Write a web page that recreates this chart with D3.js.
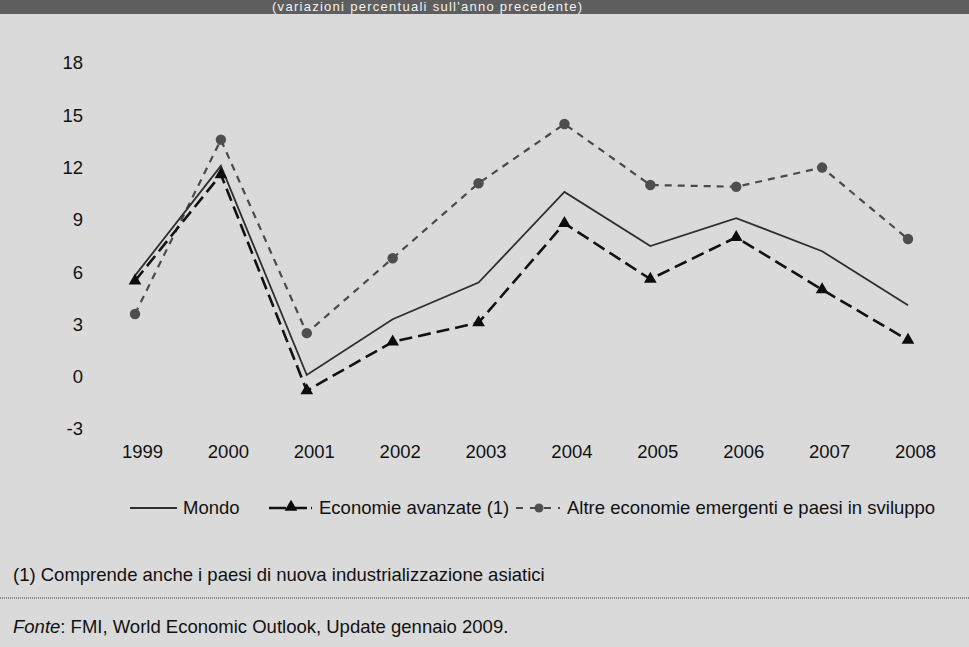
<!DOCTYPE html>
<html>
<head>
<meta charset="utf-8">
<script src="https://cdn.jsdelivr.net/npm/d3@7"></script>
<style>
  html, body { margin: 0; padding: 0; background: #dadada; }
  svg { display: block; }
  text { font-family: "Liberation Sans", Arial, Helvetica, sans-serif; }
</style>
</head>
<body>
<svg id="chart" width="969" height="647"></svg>
<script>
// Tassi di crescita annui, 1999-2008
const years = [1999, 2000, 2001, 2002, 2003, 2004, 2005, 2006, 2007, 2008];
const mondo = [5.8, 12.1, 0.1, 3.3, 5.4, 10.6, 7.5, 9.1, 7.2, 4.1];
const avanzate = [5.5, 11.6, -0.8, 2.0, 3.1, 8.8, 5.6, 8.0, 5.0, 2.1];
const altre = [3.6, 13.6, 2.5, 6.8, 11.1, 14.5, 11.0, 10.9, 12.0, 7.9];
const yTicks = [-3, 0, 3, 6, 9, 12, 15, 18];

const seriesNames = ["Mondo", "Economie avanzate (1)", "Altre economie emergenti e paesi in sviluppo"];
const titleText = "(variazioni percentuali sull'anno precedente)";
const noteText = "(1) Comprende anche i paesi di nuova industrializzazione asiatici";
const sourceLabel = "Fonte";
const sourceText = ": FMI, World Economic Outlook, Update gennaio 2009.";

const svg = d3.select("#chart");
const W = 969, H = 647;
const FS = 18.5;
const INK = "#111";

svg.append("rect").attr("width", W).attr("height", H).attr("fill", "#dadada");

// Fascia scura del titolo
svg.append("rect").attr("x", 0).attr("y", 0).attr("width", W).attr("height", 14).attr("fill", "#5e5e5e");
svg.append("text")
  .attr("x", 272).attr("y", 11)
  .attr("font-size", 13)
  .attr("textLength", 310)
  .attr("lengthAdjust", "spacing")
  .attr("fill", "#f2f2f2")
  .text(titleText);

const x = d3.scalePoint().domain(years).range([135, 908]);
const y = d3.scaleLinear().domain([-3, 18]).range([429, 63]);

// Asse verticale
const yAxis = svg.append("g")
  .attr("transform", "translate(90,0)")
  .call(d3.axisLeft(y).tickValues(yTicks).tickSize(0).tickPadding(7).tickFormat(d => String(d)));
yAxis.select(".domain").remove();
yAxis.selectAll("text").attr("font-size", FS).attr("fill", INK)
  .attr("font-family", "'Liberation Sans', Arial, sans-serif");

// Asse orizzontale
const xAxis = svg.append("g")
  .attr("transform", "translate(0,439)")
  .call(d3.axisBottom(x).tickSize(0).tickPadding(6).tickFormat(d => String(d)));
xAxis.select(".domain").remove();
xAxis.selectAll("text").attr("font-size", FS).attr("fill", INK).attr("dx", 7)
  .attr("font-family", "'Liberation Sans', Arial, sans-serif");

const line = d3.line().x((d, i) => x(years[i])).y(d => y(d));

// Altre economie emergenti: tratteggio corto grigio con cerchi
svg.append("path").datum(altre)
  .attr("d", line).attr("fill", "none")
  .attr("stroke", "#4a4a4a").attr("stroke-width", 2.2)
  .attr("stroke-dasharray", "7,6");
svg.append("g").selectAll("circle").data(altre).join("circle")
  .attr("cx", (d, i) => x(years[i])).attr("cy", d => y(d))
  .attr("r", 5.2).attr("fill", "#4e4e4e");

// Mondo: linea continua
svg.append("path").datum(mondo)
  .attr("d", line).attr("fill", "none")
  .attr("stroke", "#2e2e2e").attr("stroke-width", 1.8);

// Economie avanzate: tratteggio lungo nero con triangoli
svg.append("path").datum(avanzate)
  .attr("d", line).attr("fill", "none")
  .attr("stroke", "#111").attr("stroke-width", 2.6)
  .attr("stroke-dasharray", "13,6");
const tri = d3.symbol().type(d3.symbolTriangle).size(70);
svg.append("g").selectAll("path").data(avanzate).join("path")
  .attr("d", tri)
  .attr("transform", (d, i) => `translate(${x(years[i])},${y(d)})`)
  .attr("fill", "#0c0c0c");

// Legenda
const ly = 508;
const leg = svg.append("g").attr("font-size", FS);
leg.append("line").attr("x1", 130).attr("x2", 177).attr("y1", ly).attr("y2", ly)
  .attr("stroke", "#2e2e2e").attr("stroke-width", 1.8);
leg.append("text").attr("x", 183).attr("y", ly + 6).attr("fill", INK).text(seriesNames[0]);

leg.append("line").attr("x1", 269).attr("x2", 312).attr("y1", ly).attr("y2", ly)
  .attr("stroke", "#111").attr("stroke-width", 2.6).attr("stroke-dasharray", "17,4");
leg.append("path").attr("d", tri).attr("transform", `translate(291,${ly - 1})`).attr("fill", "#0c0c0c");
leg.append("text").attr("x", 319).attr("y", ly + 6).attr("fill", INK).text(seriesNames[1]);

leg.append("line").attr("x1", 516).attr("x2", 560).attr("y1", ly).attr("y2", ly)
  .attr("stroke", "#4a4a4a").attr("stroke-width", 2.2).attr("stroke-dasharray", "7,7");
leg.append("circle").attr("cx", 539).attr("cy", ly).attr("r", 4.5).attr("fill", "#4e4e4e");
leg.append("text").attr("x", 567).attr("y", ly + 6).attr("fill", INK).text(seriesNames[2]);

// Nota
svg.append("text").attr("x", 13).attr("y", 581).attr("font-size", FS).attr("fill", INK).text(noteText);

// Separatore punteggiato
svg.append("line").attr("x1", 0).attr("x2", W).attr("y1", 598).attr("y2", 598)
  .attr("stroke", "#3a3a3a").attr("stroke-width", 1).attr("stroke-dasharray", "1,1");

// Fonte
const src = svg.append("text").attr("x", 13).attr("y", 633).attr("font-size", FS).attr("fill", INK);
src.append("tspan").attr("font-style", "italic").text(sourceLabel);
src.append("tspan").text(sourceText);
</script>
</body>
</html>
